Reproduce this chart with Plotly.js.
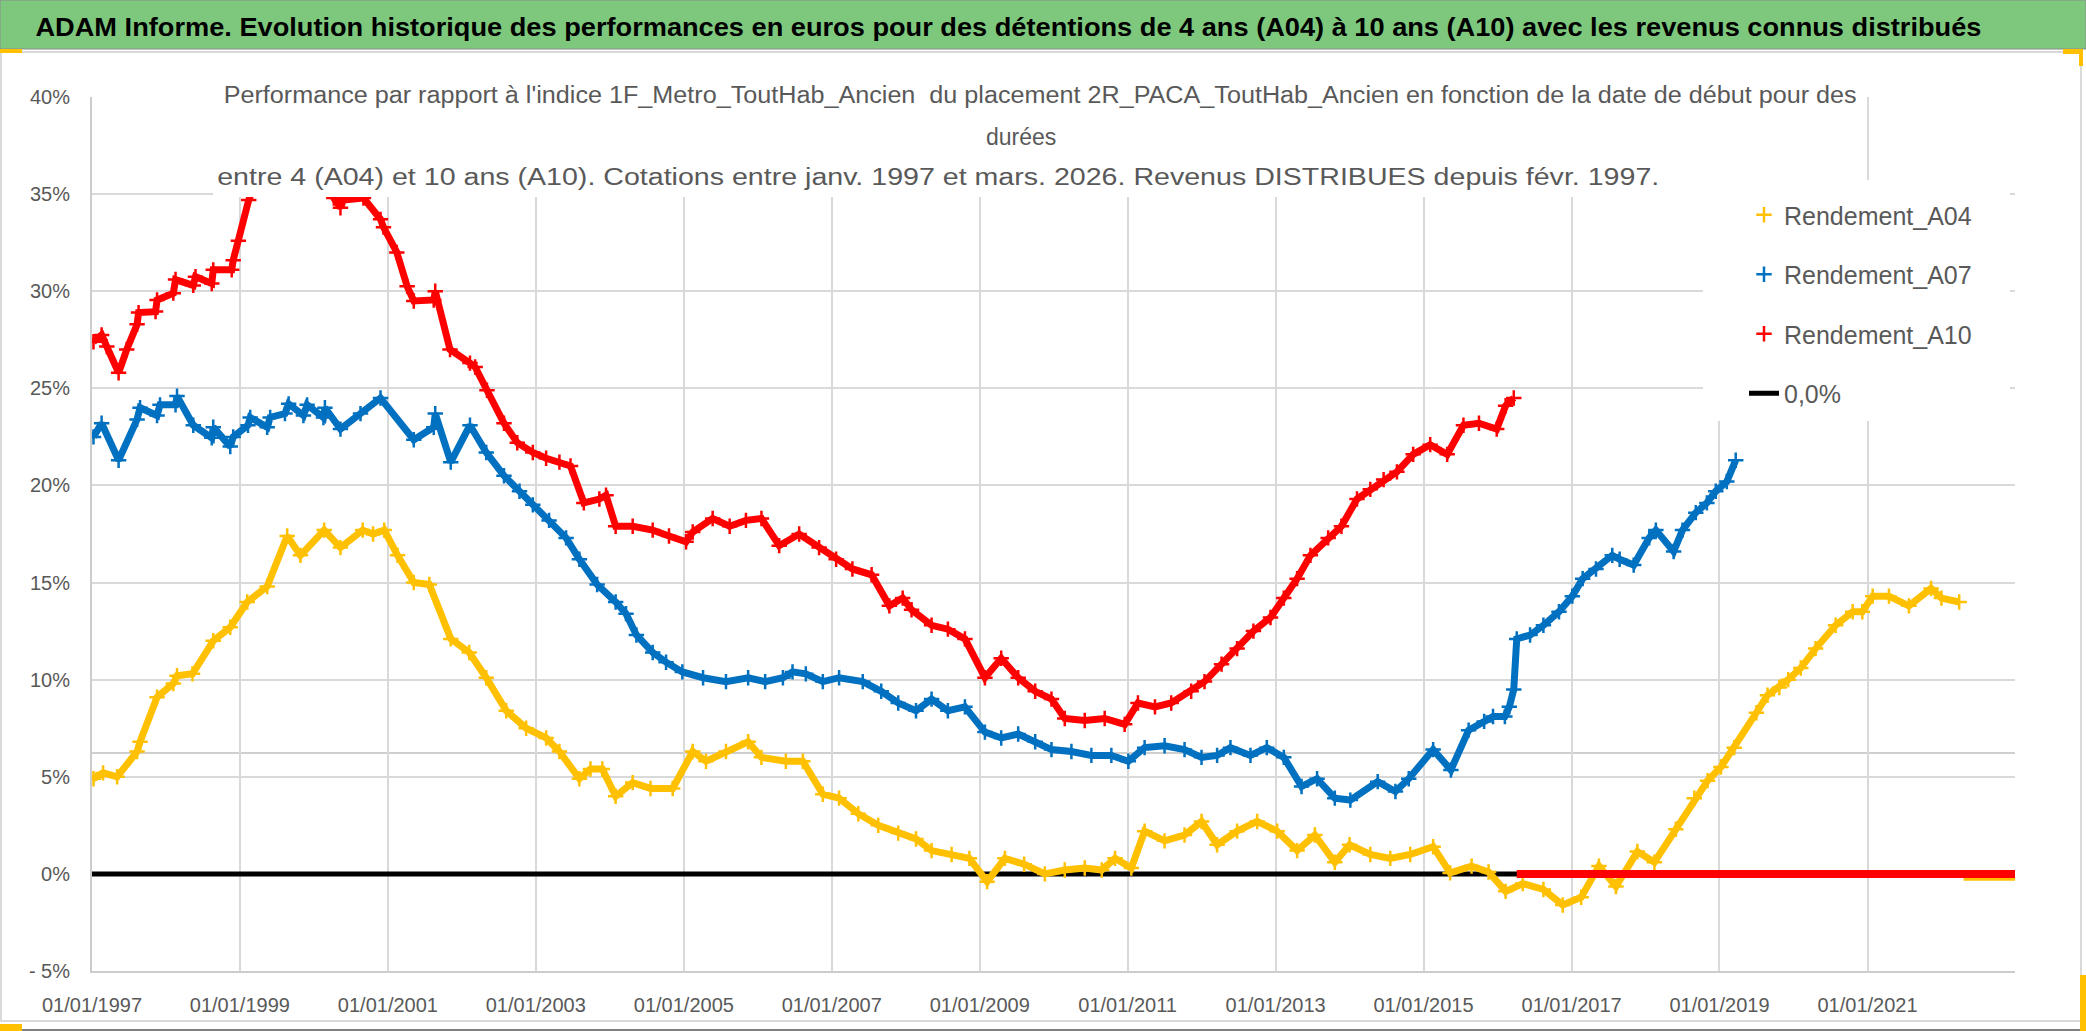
<!DOCTYPE html>
<html><head><meta charset="utf-8">
<script src="https://cdn.plot.ly/plotly-3.0.1.min.js"></script>
<style>html,body{margin:0;padding:0;background:#fff;overflow:hidden}#chart{width:2086px;height:1031px}</style>
</head><body><div id="chart"></div>
<script>
// ---------- DATA ----------
const a04Years = [1997.02,1997.15,1997.34,1997.61,1997.65,1997.88,1998.10,1998.15,1998.36,1998.64,1998.87,1999.10,1999.37,1999.64,1999.82,2000.14,2000.36,2000.66,2000.80,2000.95,2001.13,2001.35,2001.56,2001.85,2002.10,2002.33,2002.60,2002.87,2003.14,2003.32,2003.59,2003.74,2003.90,2004.08,2004.31,2004.55,2004.85,2005.12,2005.30,2005.57,2005.87,2006.05,2006.38,2006.61,2006.88,2007.10,2007.36,2007.63,2007.90,2008.14,2008.35,2008.62,2008.86,2009.10,2009.34,2009.60,2009.88,2010.15,2010.42,2010.65,2010.83,2011.05,2011.23,2011.50,2011.77,2012.00,2012.21,2012.48,2012.75,2013.02,2013.29,2013.53,2013.80,2014.00,2014.28,2014.55,2014.82,2015.13,2015.36,2015.65,2015.88,2016.11,2016.34,2016.62,2016.88,2017.13,2017.37,2017.60,2017.89,2018.12,2018.41,2018.66,2018.84,2019.02,2019.20,2019.50,2019.65,2019.81,2019.93,2020.10,2020.30,2020.57,2020.80,2020.93,2021.07,2021.29,2021.56,2021.86,2022.00,2022.24];
const a04Values = [4.9,5.2,5.0,6.3,6.8,9.1,9.8,10.2,10.3,12.0,12.7,14.0,14.8,17.4,16.4,17.7,16.8,17.7,17.5,17.7,16.4,15.0,14.9,12.1,11.4,10.1,8.4,7.5,7.0,6.3,4.9,5.4,5.4,4.0,4.7,4.4,4.4,6.3,5.8,6.3,6.8,6.0,5.8,5.8,4.1,3.9,3.1,2.5,2.1,1.8,1.2,1.0,0.8,-0.4,0.8,0.5,0.0,0.2,0.3,0.2,0.8,0.3,2.2,1.7,2.0,2.7,1.5,2.2,2.7,2.2,1.2,2.0,0.6,1.5,1.0,0.8,1.0,1.4,0.05,0.4,0.1,-0.9,-0.5,-0.8,-1.6,-1.2,0.4,-0.65,1.15,0.6,2.3,3.9,4.8,5.5,6.5,8.3,9.2,9.6,10.0,10.6,11.6,12.8,13.5,13.5,14.3,14.3,13.8,14.7,14.2,14.0];
const a04TailYears = [2022.30, 2023.00];
const a04TailValues = [-0.15, -0.15];

const a07Years = [1997.02,1997.13,1997.36,1997.61,1997.65,1997.88,1997.92,1998.13,1998.15,1998.37,1998.62,1998.64,1998.87,1998.91,1999.11,1999.14,1999.37,1999.41,1999.61,1999.66,1999.86,1999.91,2000.13,2000.15,2000.36,2000.63,2000.90,2001.35,2001.62,2001.64,2001.85,2002.11,2002.33,2002.57,2002.78,2002.96,2003.18,2003.41,2003.59,2003.83,2004.08,2004.22,2004.36,2004.58,2004.76,2004.98,2005.26,2005.57,2005.87,2006.10,2006.34,2006.47,2006.65,2006.88,2007.10,2007.42,2007.67,2007.90,2008.14,2008.35,2008.57,2008.80,2009.07,2009.29,2009.52,2009.75,2009.97,2010.24,2010.51,2010.78,2011.01,2011.23,2011.50,2011.77,2012.00,2012.21,2012.39,2012.66,2012.88,2013.11,2013.35,2013.56,2013.80,2014.01,2014.38,2014.62,2014.80,2015.13,2015.37,2015.61,2015.82,2015.94,2016.10,2016.16,2016.22,2016.26,2016.44,2016.62,2016.83,2017.01,2017.15,2017.33,2017.55,2017.65,2017.84,2018.05,2018.14,2018.38,2018.50,2018.68,2018.83,2018.95,2019.10,2019.22];
const a07Values = [22.5,23.2,21.3,23.4,24.0,23.6,24.15,24.15,24.6,23.1,22.45,23.0,22.0,22.5,23.1,23.5,23.0,23.5,23.7,24.2,23.6,24.15,23.5,24.0,22.9,23.7,24.5,22.35,23.0,23.7,21.2,23.1,21.7,20.5,19.7,19.0,18.2,17.3,16.2,14.9,14.0,13.4,12.3,11.4,10.9,10.4,10.1,9.9,10.1,9.9,10.1,10.4,10.3,9.9,10.1,9.9,9.4,8.8,8.4,9.0,8.4,8.6,7.3,7.0,7.2,6.8,6.4,6.3,6.1,6.1,5.8,6.5,6.6,6.4,6.0,6.1,6.5,6.1,6.5,6.0,4.5,4.9,3.9,3.8,4.75,4.24,4.9,6.4,5.35,7.4,7.85,8.1,8.1,8.6,9.5,12.1,12.3,12.8,13.5,14.3,15.2,15.7,16.4,16.2,15.9,17.3,17.7,16.6,17.7,18.6,19.1,19.7,20.2,21.3];
const a07TailYears = [2019.30, 2023.00];
const a07TailValues = [0, 0];

const a10Years = [1997.02,1997.13,1997.20,1997.36,1997.47,1997.61,1997.63,1997.86,1997.88,1998.10,1998.13,1998.37,1998.40,1998.62,1998.64,1998.89,1998.91,1998.98,1999.12,1999.35,1999.65,1999.90,2000.10,2000.27,2000.36,2000.40,2000.67,2000.90,2000.94,2001.12,2001.26,2001.35,2001.62,2001.64,2001.84,2002.11,2002.18,2002.34,2002.57,2002.75,2002.96,2003.14,2003.32,2003.47,2003.65,2003.86,2003.95,2004.08,2004.31,2004.58,2004.80,2005.03,2005.12,2005.39,2005.62,2005.84,2006.05,2006.29,2006.56,2006.83,2007.06,2007.28,2007.54,2007.78,2007.96,2008.08,2008.35,2008.57,2008.80,2009.07,2009.29,2009.52,2009.75,2009.97,2010.15,2010.42,2010.69,2010.96,2011.14,2011.37,2011.59,2011.86,2012.04,2012.27,2012.48,2012.70,2012.93,2013.11,2013.29,2013.47,2013.71,2013.89,2014.10,2014.28,2014.46,2014.64,2014.86,2015.09,2015.32,2015.54,2015.75,2015.99,2016.11,2016.22];
const a10Values = [27.4,27.75,27.15,25.8,27.0,28.3,28.9,28.95,29.55,29.9,30.6,30.3,30.75,30.4,31.1,31.1,31.6,32.6,34.7,37.0,38.5,38.0,36.5,34.8,34.3,34.7,34.8,33.7,33.3,32.0,30.25,29.5,29.55,30.0,27.0,26.3,26.1,24.9,23.2,22.2,21.7,21.4,21.2,21.0,19.1,19.3,19.5,17.9,17.9,17.7,17.4,17.1,17.6,18.3,17.9,18.2,18.3,16.9,17.5,16.8,16.2,15.7,15.4,13.8,14.2,13.6,12.8,12.6,12.1,10.1,11.1,10.1,9.4,9.0,8.0,7.9,8.0,7.7,8.8,8.6,8.8,9.4,9.9,10.8,11.6,12.5,13.2,14.2,15.2,16.4,17.3,17.9,19.3,19.8,20.3,20.7,21.6,22.1,21.6,23.1,23.2,22.9,24.1,24.5];
const a10TailYears = [2016.26, 2023.00];
const a10TailValues = [0, 0];

const zeroYears = [1997.0, 2023.0];
const zeroValues = [0, 0];
const extraLineValue = 6.23;

const seriesNames = ['Rendement_A04','Rendement_A07','Rendement_A10','0,0%'];
const yTickValues = [-5,0,5,10,15,20,25,30,35,40];
const yTickLabels = ['- 5%','0%','5%','10%','15%','20%','25%','30%','35%','40%'];
const mainTitle = 'ADAM Informe. Evolution historique des performances en euros pour des détentions de 4 ans (A04) à 10 ans (A10) avec les revenus connus distribués';
const subLine1 = "Performance par rapport à l'indice 1F_Metro_ToutHab_Ancien\u00a0\u00a0du placement 2R_PACA_ToutHab_Ancien en fonction de la date de début pour des";
const subLine2 = 'durées';
const subLine3 = 'entre 4 (A04) et 10 ans (A10). Cotations entre janv. 1997 et mars. 2026. Revenus DISTRIBUES depuis févr. 1997.';

// ---------- helpers ----------
function yearToDate(y){
  const yr = Math.floor(y);
  const s = Date.UTC(yr,0,1), e = Date.UTC(yr+1,0,1);
  return new Date(s + (y-yr)*(e-s)).toISOString().slice(0,19).replace('T',' ');
}
const W=2086, H=1031, L=92, R=2015, T=97, B=971;
const px2x = p => (p-L)/(R-L);
const py2y = p => (B-p)/(B-T);
const FONT = '"Liberation Sans", Arial, sans-serif';
const GREY = '#595959';

const colors = ['#FFC000','#0070C0','#FF0000'];
const sets = [[a04Years,a04Values,a04TailYears,a04TailValues],[a07Years,a07Values,a07TailYears,a07TailValues],[a10Years,a10Values,a10TailYears,a10TailValues]];

const traces = [{
  x: zeroYears.map(yearToDate), y: zeroValues, mode:'lines', name: seriesNames[3],
  line:{color:'#000000', width:5}, legendgroup:'z', legendrank:4, hoverinfo:'skip'
}];
sets.forEach((s,i)=>{
  const xs = s[0].map(yearToDate);
  traces.push({x:xs, y:s[1], mode:'lines', showlegend:false,
    line:{color:colors[i], width:7}, hoverinfo:'skip'});
  traces.push({x:xs, y:s[1], mode:'markers', name:seriesNames[i], legendgroup:'g'+i, legendrank:i+1,
    marker:{symbol:'cross-thin', size:11, color:colors[i], line:{color:colors[i], width:2.5}}, hoverinfo:'skip'});
  traces.push({x:s[2].map(yearToDate), y:s[3], mode:'lines', showlegend:false,
    line:{color:colors[i], width:8}, hoverinfo:'skip'});
});

function rectPx(x0,y0,x1,y1,opt){
  return Object.assign({type:'rect', xref:'paper', yref:'paper',
    x0:px2x(x0), x1:px2x(x1), y0:py2y(y1), y1:py2y(y0)}, opt);
}

const shapes = [
  rectPx(0,0,2086,49,{fillcolor:'#7ec87e', line:{color:'#8a8a8a', width:1}, layer:'below'}),
  rectPx(1,52,2081,1021,{fillcolor:'rgba(0,0,0,0)', line:{color:'#d9d9d9', width:2}, layer:'below'}),
  {type:'line', xref:'paper', yref:'paper', x0:px2x(0), x1:px2x(2086), y0:py2y(1030), y1:py2y(1030), line:{color:'#808080', width:2}},
  {type:'line', xref:'paper', yref:'y', x0:0, x1:1, y0:extraLineValue, y1:extraLineValue, line:{color:'#cfcfcf', width:2}, layer:'below'},
  rectPx(213,84,1865,197,{fillcolor:'#ffffff', line:{width:0}, layer:'above'}),
  rectPx(1703,180,2010,421,{fillcolor:'#ffffff', line:{width:0}, layer:'above'}),
  rectPx(0,49,22,53,{fillcolor:'#ffc000', line:{width:0}}),
  rectPx(0,1024,22,1031,{fillcolor:'#ffc000', line:{width:0}}),
  rectPx(2063,49,2083,54,{fillcolor:'#ffc000', line:{width:0}}),
  rectPx(2079,49,2083,66,{fillcolor:'#ffc000', line:{width:0}}),
  rectPx(2080,975,2086,1031,{fillcolor:'#ffc000', line:{width:0}})
];

// centres and target widths (px) of the header / subtitle lines, measured on the reference
const annotations = [
  {text:mainTitle, xref:'paper', yref:'paper', x:px2x(1008), y:py2y(27), xanchor:'center', yanchor:'middle', showarrow:false, font:{family:FONT, size:26, weight:'bold', color:'#000000'}},
  {text:subLine1, xref:'paper', yref:'paper', x:px2x(1039.5), y:py2y(95), xanchor:'center', yanchor:'middle', showarrow:false, font:{family:FONT, size:23, color:GREY}},
  {text:subLine2, xref:'paper', yref:'paper', x:px2x(1021), y:py2y(137), xanchor:'center', yanchor:'middle', showarrow:false, font:{family:FONT, size:23, color:GREY}},
  {text:subLine3, xref:'paper', yref:'paper', x:px2x(938), y:py2y(177), xanchor:'center', yanchor:'middle', showarrow:false, font:{family:FONT, size:23, color:GREY}}
];
const textWidths = {0:1946, 1:1633, 3:1442};

const layout = {
  width:W, height:H, autosize:false,
  margin:{l:L, r:W-R, t:T, b:H-B, pad:0},
  paper_bgcolor:'#ffffff', plot_bgcolor:'#ffffff',
  showlegend:true,
  legend:{x:px2x(1744), y:py2y(192), xanchor:'left', yanchor:'top', bgcolor:'rgba(0,0,0,0)',
    font:{family:FONT, size:25, color:GREY}, tracegroupgap:24, traceorder:'grouped'},
  xaxis:{type:'date', range:[yearToDate(1997.0), yearToDate(2022.995)], tick0:'1997-01-01', dtick:'M24',
    tickformat:'%d/%m/%Y', showgrid:true, gridcolor:'#d9d9d9', gridwidth:2, zeroline:false,
    showline:true, linecolor:'#cccccc', linewidth:2, ticks:'', ticklabelstandoff:15,
    tickfont:{family:FONT, size:20, color:GREY}, fixedrange:true},
  yaxis:{range:[-5,40], tickvals:yTickValues, ticktext:yTickLabels, showgrid:true, gridcolor:'#d9d9d9', gridwidth:2,
    zeroline:false, showline:true, linecolor:'#cccccc', linewidth:2, ticks:'', ticklabelstandoff:16,
    tickfont:{family:FONT, size:20, color:GREY}, fixedrange:true},
  shapes:shapes, annotations:annotations
};

Plotly.newPlot('chart', traces, layout, {displayModeBar:false, staticPlot:true}).then(gd=>{
  Object.keys(textWidths).forEach(k=>{
    const t = gd.querySelector('.annotation[data-index="'+k+'"] text');
    if(t){ t.setAttribute('textLength', textWidths[k]); t.setAttribute('lengthAdjust','spacingAndGlyphs'); }
  });
});
</script>
</body></html>
